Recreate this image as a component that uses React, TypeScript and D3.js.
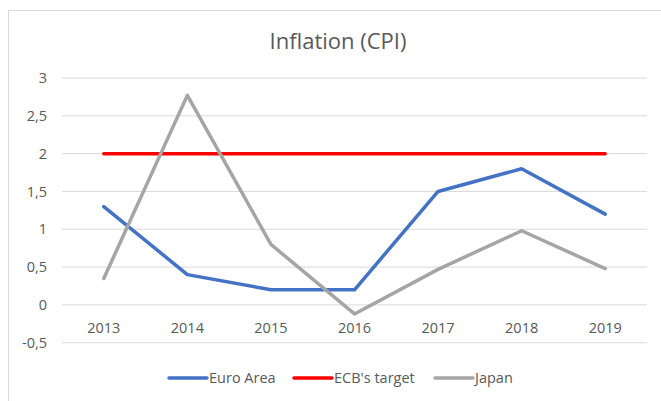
import * as d3 from "d3";

const years = ["2013", "2014", "2015", "2016", "2017", "2018", "2019"];
const euroArea = [1.3, 0.4, 0.2, 0.2, 1.5, 1.8, 1.2];
const ecbTarget = [2, 2, 2, 2, 2, 2, 2];
const japan = [0.35, 2.77, 0.8, -0.12, 0.47, 0.98, 0.48];
const yTicks = [-0.5, 0, 0.5, 1, 1.5, 2, 2.5, 3];

const seriesNames = ["Euro Area", "ECB's target", "Japan"];
const seriesColors = ["#4472C4", "#FF0000", "#A5A5A5"];

const W = 661;
const H = 401;
const FONT = "'Open Sans', sans-serif";
const TEXT = "#595959";

export default function App() {
  const x = d3.scaleBand().domain(years).range([62, 647]);
  const y = d3.scaleLinear().domain([-0.5, 3]).range([342.7, 78]);
  const fmt = (v: number) => String(v).replace(".", ",");

  const line = d3
    .line<number>()
    .x((_, i) => (x(years[i]) as number) + x.bandwidth() / 2)
    .y((d) => y(d));

  const series = [euroArea, ecbTarget, japan];
  const legendX = [169, 294, 435];

  return (
    <svg
      width={W}
      height={H}
      style={{ position: "absolute", left: 0, top: 0, background: "#fff" }}
      fontFamily={FONT}
    >
      <rect x={8.5} y={10.5} width={700} height={500} fill="#fff" stroke="#D9D9D9" />

      <text x={338} y={49} textAnchor="middle" fontSize={22} fill={TEXT}>
        Inflation (CPI)
      </text>

      {/* gridlines + y labels */}
      {yTicks.map((t) => (
        <g key={t}>
          <line x1={62} x2={647} y1={y(t)} y2={y(t)} stroke="#D9D9D9" strokeWidth={1} />
          <text x={47} y={y(t)} dy="0.35em" textAnchor="end" fontSize={14.5} fill={TEXT}>
            {fmt(t)}
          </text>
        </g>
      ))}

      {/* category labels */}
      {years.map((yr) => (
        <text
          key={yr}
          x={(x(yr) as number) + x.bandwidth() / 2}
          y={333}
          textAnchor="middle"
          fontSize={14.5}
          fill={TEXT}
        >
          {yr}
        </text>
      ))}

      {/* lines */}
      {series.map((s, i) => (
        <path
          key={i}
          d={line(s) || ""}
          fill="none"
          stroke={seriesColors[i]}
          strokeWidth={3.5}
          strokeLinecap="round"
          strokeLinejoin="round"
        />
      ))}

      {/* legend */}
      {seriesNames.map((name, i) => (
        <g key={name}>
          <line
            x1={legendX[i]}
            x2={legendX[i] + 38}
            y1={378}
            y2={378}
            stroke={seriesColors[i]}
            strokeWidth={3.5}
            strokeLinecap="round"
          />
          <text x={legendX[i] + 40} y={378} dy="0.35em" fontSize={14.5} fill={TEXT}>
            {name}
          </text>
        </g>
      ))}
    </svg>
  );
}
